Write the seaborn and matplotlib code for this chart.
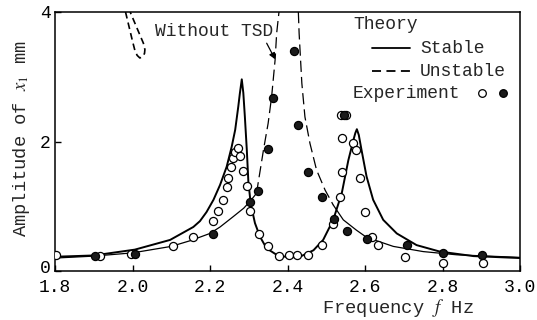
import numpy as np
import pandas as pd
import matplotlib
matplotlib.use("Agg")
import matplotlib.pyplot as plt
import matplotlib.transforms as mtransforms
import seaborn as sns

# ---------------- data ----------------
# Theory, with TSD (stable, thick solid)
stable_f = [1.80, 1.90, 2.006, 2.097, 2.157, 2.174, 2.191, 2.209, 2.226, 2.243, 2.256,
            2.265, 2.273, 2.277, 2.282, 2.286, 2.29, 2.295, 2.299, 2.305, 2.316, 2.329,
            2.346, 2.372, 2.402, 2.432, 2.467, 2.492, 2.518, 2.54, 2.557, 2.57, 2.575,
            2.579, 2.584, 2.591, 2.604, 2.621, 2.647, 2.682, 2.733, 2.793, 2.88, 3.00]
stable_a = [0.22, 0.24, 0.33, 0.48, 0.68, 0.77, 0.91, 1.10, 1.33, 1.61, 1.92,
            2.18, 2.54, 2.74, 2.96, 2.75, 2.38, 1.87, 1.38, 1.04, 0.74, 0.53,
            0.35, 0.25, 0.21, 0.22, 0.32, 0.48, 0.79, 1.20, 1.71, 2.02, 2.13,
            2.19, 2.10, 1.87, 1.46, 1.10, 0.79, 0.58, 0.40, 0.30, 0.23, 0.20]

# Theory, without TSD: left branch (solid then dashed), right branch (dashed then solid)
notsd_left_solid_f = [1.80, 1.90, 2.00, 2.10, 2.15, 2.20, 2.226, 2.26, 2.287, 2.304, 2.32]
notsd_left_solid_a = [0.20, 0.23, 0.28, 0.38, 0.47, 0.58, 0.68, 0.84, 0.97, 1.08, 1.20]
notsd_left_dash_f = [2.32, 2.338, 2.35, 2.359, 2.368, 2.372, 2.378]
notsd_left_dash_a = [1.20, 1.87, 2.28, 2.69, 3.26, 3.67, 4.00]
notsd_right_dash_f = [2.428, 2.43, 2.437, 2.445, 2.458, 2.475, 2.497, 2.518]
notsd_right_dash_a = [4.00, 3.67, 2.90, 2.38, 1.97, 1.56, 1.25, 1.02]
notsd_right_solid_f = [2.518, 2.544, 2.578, 2.604, 2.673, 2.75, 2.837, 3.00]
notsd_right_solid_a = [1.02, 0.79, 0.63, 0.52, 0.38, 0.30, 0.25, 0.21]

# Unstable loop near the top at about 2.0 Hz
loop_f = [1.982, 1.988, 1.994, 2.000, 2.006, 2.012, 2.019, 2.026, 2.031, 2.032,
          2.028, 2.018, 2.006, 1.994]
loop_a = [4.00, 3.85, 3.70, 3.55, 3.41, 3.33, 3.29, 3.31, 3.36, 3.42,
          3.52, 3.66, 3.83, 4.00]

# Experiment, open circles
open_f = [1.803, 1.915, 1.995, 2.104, 2.155, 2.209, 2.221, 2.234, 2.243, 2.247, 2.253,
          2.26, 2.265, 2.273, 2.277, 2.284, 2.295, 2.303, 2.327, 2.35, 2.378, 2.405,
          2.425, 2.454, 2.488, 2.517, 2.535, 2.54, 2.54, 2.538, 2.552, 2.568, 2.577,
          2.587, 2.60, 2.617, 2.634, 2.703, 2.802, 2.904]
open_a = [0.24, 0.23, 0.27, 0.39, 0.52, 0.77, 0.93, 1.10, 1.29, 1.43, 1.60,
          1.74, 1.84, 1.90, 1.77, 1.55, 1.31, 0.92, 0.57, 0.39, 0.23, 0.24,
          0.24, 0.24, 0.40, 0.73, 1.15, 1.53, 2.06, 2.41, 2.41, 1.97, 1.87,
          1.43, 0.91, 0.53, 0.40, 0.21, 0.12, 0.12]

# Experiment, filled circles
filled_f = [1.903, 2.006, 2.207, 2.303, 2.324, 2.349, 2.362, 2.417, 2.427, 2.453,
            2.488, 2.52, 2.545, 2.553, 2.604, 2.708, 2.802, 2.901]
filled_a = [0.23, 0.27, 0.57, 1.06, 1.24, 1.88, 2.67, 3.39, 2.25, 1.53,
            1.15, 0.81, 2.41, 0.62, 0.49, 0.40, 0.28, 0.25]

x_ticks = [1.8, 2.0, 2.2, 2.4, 2.6, 2.8, 3.0]
x_tick_labels = ["1.8", "2.0", "2.2", "2.4", "2.6", "2.8", "3.0"]
y_ticks = [0, 2, 4]
y_tick_labels = ["0", "2", "4"]

# ---------------- styling ----------------
sns.set_theme(style="ticks")
plt.rcParams["font.family"] = ["Liberation Mono", "DejaVu Sans"]
plt.rcParams["mathtext.fontset"] = "stix"
FS = 13

fig = plt.figure(figsize=(5.37, 3.20), dpi=100)
ax = fig.add_axes([55 / 537, 49 / 320, 465 / 537, 259 / 320])


def line(fx, ay, lw, dashes=None):
    df = pd.DataFrame({"f": fx, "a": ay})
    sns.lineplot(data=df, x="f", y="a", ax=ax, sort=False, estimator=None,
                 color="black", lw=lw, legend=False)
    ln = ax.lines[-1]
    if dashes is not None:
        ln.set_dashes(dashes)
    return ln


line(stable_f, stable_a, 1.4)
line(notsd_left_solid_f, notsd_left_solid_a, 0.9)
line(notsd_left_dash_f, notsd_left_dash_a, 0.9, (9, 4))
line(notsd_right_dash_f, notsd_right_dash_a, 0.9, (9, 4))
line(notsd_right_solid_f, notsd_right_solid_a, 0.9)
line(loop_f, loop_a, 1.2, (4, 2.5))

sns.scatterplot(x=open_f, y=open_a, ax=ax, s=34, marker="o", facecolor="white",
                edgecolor="black", linewidth=0.9, zorder=3)
sns.scatterplot(x=filled_f, y=filled_a, ax=ax, s=34, marker="o", color="#1a1a1a",
                edgecolor="black", linewidth=0.9, zorder=4)

ax.set_xlim(1.8, 3.0)
ax.set_ylim(0, 4)
ax.set_xticks(x_ticks)
ax.set_xticklabels(x_tick_labels)
ax.set_yticks(y_ticks)
ax.set_yticklabels(y_tick_labels)
ax.tick_params(direction="in", length=4, width=1, labelsize=FS, colors="black")
ax.tick_params(axis="x", pad=5.5)
ax.tick_params(axis="y", pad=3)
for s in ax.spines.values():
    s.set_visible(True)
    s.set_linewidth(1.1)
    s.set_color("black")

# lift the "0" label a little so it clears the "1.8" label
zero_lbl = ax.get_yticklabels()[0]
zero_lbl.set_transform(zero_lbl.get_transform() +
                       mtransforms.ScaledTranslation(0, 3 / 72, fig.dpi_scale_trans))

ax.set_xlabel("Frequency $f$ Hz", fontsize=13.5)
ax.xaxis.set_label_coords(0.7366, -0.10)
ax.set_ylabel("Amplitude of $x_1$ mm", fontsize=13.5)
ax.yaxis.set_label_coords(-0.05, 0.51)

# annotation
ax.annotate("Without TSD", xy=(2.368, 3.27), xytext=(2.058, 3.70),
            fontsize=FS, va="center", ha="left",
            arrowprops=dict(arrowstyle="-|>", color="black", lw=0.9,
                            shrinkA=0, shrinkB=0, mutation_scale=9,
                            relpos=(0.93, 0.0)))

# legend (manual)
T = ax.transAxes
ax.text(0.641, 0.950, "Theory", transform=T, fontsize=FS, va="center", ha="left")
ax.plot([0.681, 0.763], [0.861, 0.861], transform=T, color="black", lw=1.3)
ax.text(0.785, 0.861, "Stable", transform=T, fontsize=FS, va="center", ha="left")
ax.plot([0.681, 0.763], [0.772, 0.772], transform=T, color="black", lw=1.3,
        dashes=(5, 3))
ax.text(0.785, 0.772, "Unstable", transform=T, fontsize=FS, va="center", ha="left")
ax.text(0.641, 0.687, "Experiment", transform=T, fontsize=FS, va="center", ha="left")
ax.plot([0.918], [0.687], transform=T, marker="o", ms=5.5, mfc="white",
        mec="black", mew=0.9, ls="none")
ax.plot([0.964], [0.687], transform=T, marker="o", ms=5.5, mfc="#1a1a1a",
        mec="black", mew=0.9, ls="none")

fig.savefig("out.png", dpi=100)
